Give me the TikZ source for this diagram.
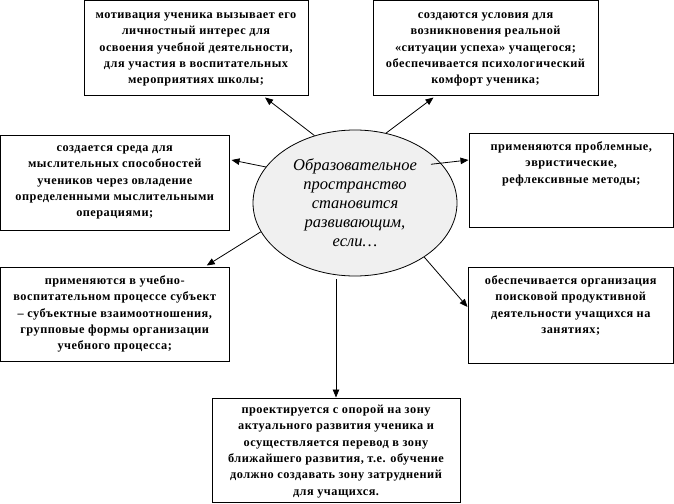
\documentclass[tikz,border=0pt]{standalone}
\usepackage{fontspec}
\setmainfont{Liberation Serif}
\usetikzlibrary{arrows.meta,shapes.geometric,fit}
\begin{document}
\begin{tikzpicture}[x=1pt,y=-1pt,
  box/.style={draw,line width=1pt,inner sep=0pt},
  txt/.style={anchor=north,align=center,inner sep=0pt,font=\bfseries\fontsize{12.3}{16.3}\selectfont\addfontfeature{LetterSpace=4}},
  ell/.style={ellipse,draw,line width=0.8pt,fill=black!6,minimum width=204pt,minimum height=146pt,inner sep=0pt,align=center,font=\itshape\fontsize{16.5}{19}\selectfont},
  arr/.style={line width=0.8pt,-{Triangle[length=8pt,width=6.5pt]}}]
\useasboundingbox (0,0) rectangle (674,503);
% boxes
\node[box,fit={(84,1) (308,95)}] (tl) {};
\node[box,fit={(373,1) (598,95)}] (tr) {};
\node[box,fit={(0.5,135) (229,230)}] (ml) {};
\node[box,fit={(469,133) (673.5,227)}] (mr) {};
\node[box,fit={(0.5,267) (229,361)}] (bl) {};
\node[box,fit={(468,267) (673.5,363)}] (br) {};
\node[box,fit={(212,398) (460,502.5)}] (bc) {};
% texts
\node[txt] (tlt) at ([yshift=-12pt]tl.north) {мотивация ученика вызывает его\\личностный интерес для\\освоения учебной деятельности,\\для участия в воспитательных\\мероприятиях школы;};
\node[txt] (trt) at ([yshift=-12pt]tr.north) {создаются условия для\\возникновения реальной\\«ситуации успеха» учащегося;\\обеспечивается психологический\\комфорт ученика;};
\node[txt] (mlt) at ([yshift=-11pt]ml.north) {создается среда для\\мыслительных способностей\\учеников через овладение\\определенными мыслительными\\операциями;};
\node[txt] (mrt) at ([yshift=-9pt]mr.north) {применяются проблемные,\\эвристические,\\рефлексивные методы;};
\node[txt] (blt) at ([yshift=-9pt]bl.north) {применяются в учебно-\\воспитательном процессе субъект\\– субъектные взаимоотношения,\\групповые формы организации\\учебного процесса;};
\node[txt] (brt) at ([yshift=-9pt]br.north) {обеспечивается организация\\поисковой продуктивной\\деятельности учащихся на\\занятиях;};
\node[txt] (bct) at ([yshift=-7.5pt]bc.north) {проектируется с опорой на зону\\актуального развития ученика и\\осуществляется перевод в зону\\ближайшего развития, т.е. обучение\\должно создавать зону затруднений\\для учащихся.};
% ellipse
\node[ell] (ell) at (355,203) {Образовательное\\пространство\\становится\\развивающим,\\если…};
% arrows
\draw[arr] (ell.121.7) -- ([xshift=69pt,yshift=-2pt]tl.south);
\draw[arr] (ell.66) -- ([xshift=-52pt,yshift=-2pt]tr.south);
\draw[arr] (ell.158.7) -- ([xshift=2pt,yshift=22.5pt]ml.east);
\draw[arr] ([xshift=-11pt]ell.24) -- ([yshift=20pt]mr.west);
\draw[arr] (ell.197) -- ([xshift=92pt,yshift=1pt]bl.north);
\draw[arr] (ell.-38) -- ([yshift=8pt]br.west);
\draw[arr] ([yshift=-3pt]ell.south -| bc.north) -- (bc.north);
\end{tikzpicture}
\end{document}
